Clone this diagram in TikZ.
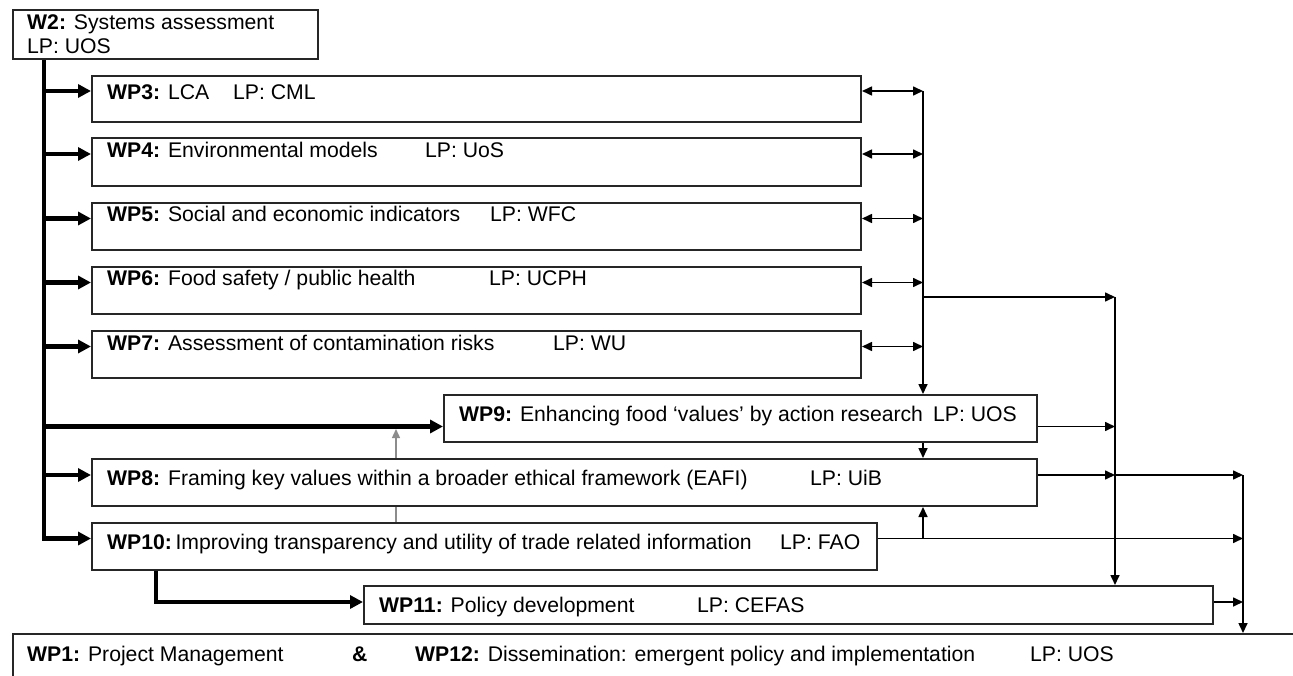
\documentclass[tikz,border=0pt]{standalone}
\usepackage{fontspec}
\setmainfont{Liberation Sans}
\usetikzlibrary{arrows.meta,backgrounds}
\tikzset{
  box/.style={draw=black!85, line width=2pt, fill=white, anchor=north west, inner sep=0pt, rectangle},
  txt/.style={anchor=base west, inner sep=0pt, font=\fontsize{21.2}{25}\selectfont},
  thk/.style={line width=4.5pt, -{Triangle[length=13pt,width=13pt]}},
  thn/.style={line width=1.6pt, -{Triangle[length=10pt,width=9pt]}},
  dbl/.style={line width=1.6pt, {Triangle[length=10pt,width=9pt]}-{Triangle[length=10pt,width=9pt]}},
  gry/.style={line width=1.3pt, draw=black!45, -{Triangle[length=9pt,width=8pt]}, shorten >=2.5pt},
}
\begin{document}
\begin{tikzpicture}[x=1pt,y=-1pt]
\useasboundingbox (0,0) rectangle (1293,676);
\clip (0,0) rectangle (1293,676);
% boxes
\node[box, minimum width=305pt, minimum height=49pt] (w2) at (12,9) {};
\node[box, minimum width=769pt, minimum height=46pt] (wp3) at (91,75) {};
\node[box, minimum width=769pt, minimum height=48pt] (wp4) at (91,137) {};
\node[box, minimum width=769pt, minimum height=47pt] (wp5) at (91,202) {};
\node[box, minimum width=769pt, minimum height=47pt] (wp6) at (91,266) {};
\node[box, minimum width=769pt, minimum height=47pt] (wp7) at (91,330) {};
\node[box, minimum width=593pt, minimum height=47pt] (wp9) at (443,394) {};
\node[box, minimum width=945pt, minimum height=47pt] (wp8) at (91,458) {};
\node[box, minimum width=785pt, minimum height=47pt] (wp10) at (91,522) {};
\node[box, minimum width=849pt, minimum height=38pt] (wp11) at (363,585) {};
\node[box, minimum width=1400pt, minimum height=100pt] (wp1) at (12,633) {};
% texts
\node[txt] (t2) at (27,30) {\textbf{W2:} Systems assessment};
\node[txt] (l2) at (27,54) {LP: UOS};
\node[txt] (t3) at (107,100) {\textbf{WP3:} LCA};
\node[txt] (l3) at (233,100) {LP: CML};
\node[txt] (t4) at (107,158) {\textbf{WP4:} Environmental models};
\node[txt] (l4) at (425,158) {LP: UoS};
\node[txt] (t5) at (107,222) {\textbf{WP5:} Social and economic indicators};
\node[txt] (l5) at (490,222) {LP: WFC};
\node[txt] (t6) at (107,286) {\textbf{WP6:} Food safety / public health};
\node[txt] (l6) at (489,286) {LP: UCPH};
\node[txt] (t7) at (107,350) {\textbf{WP7:} Assessment of contamination risks};
\node[txt] (l7) at (553,350) {LP: WU};
\node[txt] (t9) at (459,421) {\textbf{WP9:} Enhancing food `values' by action research};
\node[txt] (l9) at (933,421) {LP: UOS};
\node[txt] (t8) at (107,485) {\textbf{WP8:} Framing key values within a broader ethical framework (EAFI)};
\node[txt] (l8) at (810,485) {LP: UiB};
\node[txt] (t10) at (107,549) {\textbf{WP10:}\,Improving transparency and utility of trade related information};
\node[txt] (l10) at (780,549) {LP: FAO};
\node[txt] (t11) at (379,612) {\textbf{WP11:} Policy development};
\node[txt] (l11) at (697,612) {LP: CEFAS};
\node[txt] (t1) at (27,661) {\textbf{WP1:} Project Management};
\node[txt] (amp) at (352,661) {\textbf{\&}};
\node[txt] (t12) at (415,661) {\textbf{WP12:} Dissemination: emergent policy and implementation};
\node[txt] (l1) at (1030,661) {LP: UOS};
% connector points
\coordinate (trunk) at (44,0);
\coordinate (g) at (396,0);
\coordinate (c) at (156,0);
\coordinate (b1) at (923,0);
\coordinate (b2) at (1115,0);
\coordinate (b3) at (1243,0);
\coordinate (br) at (923,297);
\foreach \i in {3,4,5,6,7,10} {
  \coordinate (a\i) at ([yshift=8pt]wp\i.west);
  \coordinate (e\i) at ([yshift=8pt]wp\i.east);
}
\coordinate (a9) at ([yshift=-8pt]wp9.west);
\coordinate (e9) at ([yshift=-8pt]wp9.east);
\coordinate (a8) at ([yshift=7.5pt]wp8.west);
\coordinate (e8) at ([yshift=7.5pt]wp8.east);
\coordinate (a11) at ([yshift=3pt]wp11.west);
\coordinate (e11) at ([yshift=3pt]wp11.east);
\begin{pgfonlayer}{background}
\fill[white] (0,0) rectangle (1293,676);
% left thick connectors
\draw[thk] (trunk |- w2.south) |- (a10);
\foreach \i in {3,4,5,6,7,9,8} { \draw[thk] (trunk |- a\i) -- (a\i); }
\draw[thk] (c |- wp10.south) |- (a11);
\draw[gry] (g |- wp10.north) -- (g |- a9);
% right connectors
\foreach \i in {3,4,5,6,7} { \draw[dbl] (e\i) -- (b1 |- e\i); }
\draw[thn] (b1 |- e3) -- (b1 |- wp9.north);
\draw[thn] (br) -- (b2 |- br);
\draw[thn] (b2 |- br) -- (b2 |- wp11.north);
\draw[thn] (e9) -- (b2 |- e9);
\draw[thn] (b1 |- wp9.south) -- (b1 |- wp8.north);
\draw[thn] (e8) -- (b2 |- e8);
\draw[thn] (b2 |- e8) -- (b3 |- e8);
\draw[thn] (e10) -- (b3 |- e10);
\draw[thn] (b1 |- e10) -- (b1 |- wp8.south);
\draw[thn] (e11) -- (b3 |- e11);
\draw[thn] (b3 |- e8) -- (b3 |- wp1.north);
\end{pgfonlayer}
\end{tikzpicture}
\end{document}
